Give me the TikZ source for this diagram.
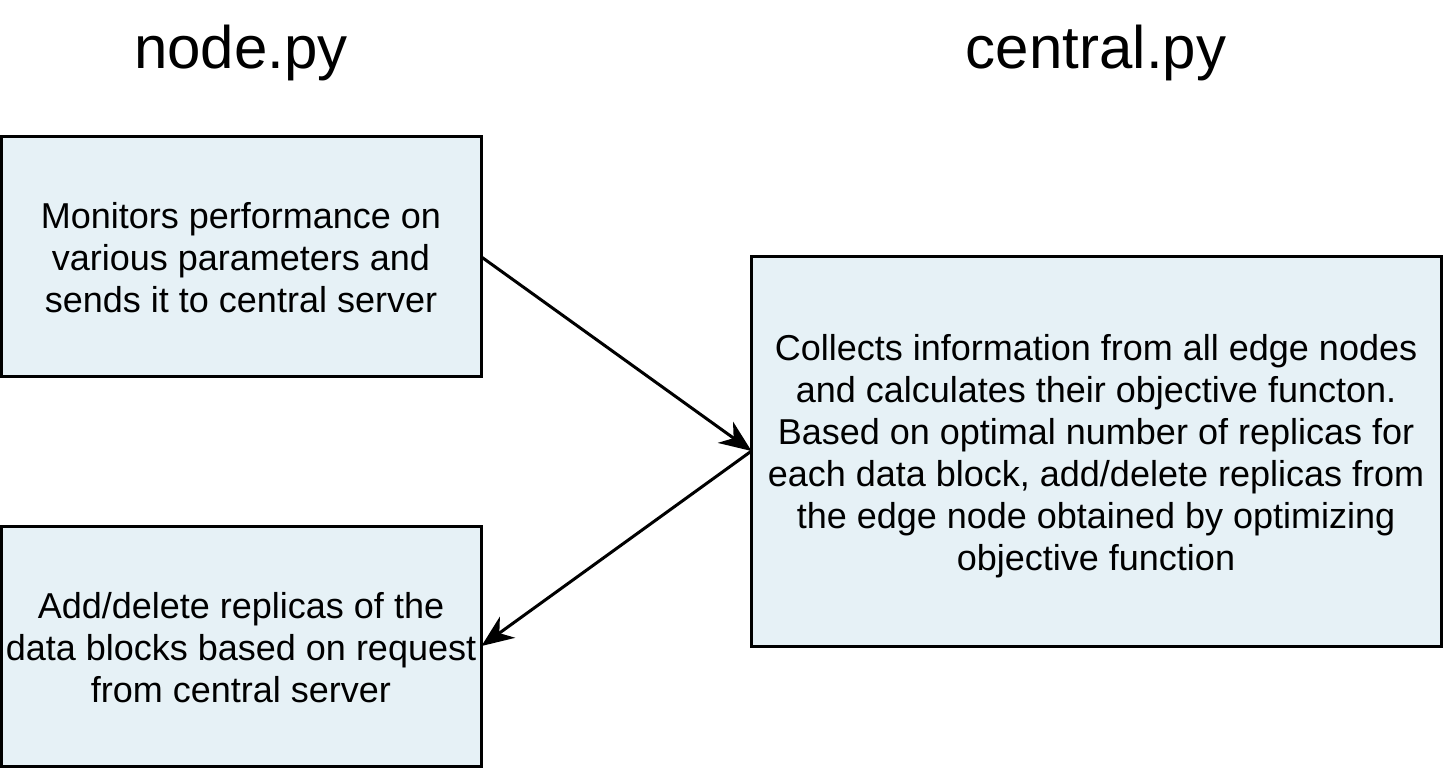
\documentclass[tikz,border=0pt]{standalone}
\usepackage{fontspec}
\setmainfont{Liberation Sans}
\usetikzlibrary{arrows.meta}
\definecolor{boxfill}{HTML}{E6F1F6}
\begin{document}
\begin{tikzpicture}[x=1pt,y=-1pt,
  box/.style={draw=black,line width=3pt,fill=boxfill},
  boxtext/.style={align=center,font=\fontsize{36}{42}\selectfont,inner sep=0pt},
  title/.style={font=\fontsize{60}{70}\selectfont,inner sep=0pt},
  conn/.style={line width=3pt,-{Stealth[length=32pt,width=26pt,inset=10pt]}}]
\useasboundingbox (0,0) rectangle (1443,768);
\node[title] (t1) at (241,53) {node.py};
\node[title] (t2) at (1096,53) {central.py};
\draw[box] (1.5,136.5) rectangle (481.5,376.5);
\draw[box] (1.5,526.5) rectangle (481.5,766.5);
\draw[box] (751.5,256.5) rectangle (1441.5,646.5);
\node[boxtext] (n1) at (241,258) {Monitors performance on\\various parameters and\\sends it to central server};
\node[boxtext] (n2) at (241,648) {Add/delete replicas of the\\data blocks based on request\\from central server};
\node[boxtext] (n3) at (1096,456) {Collects information from all edge nodes\\and calculates their objective functon.\\Based on optimal number of replicas for\\each data block, add/delete replicas from\\the edge node obtained by optimizing\\objective function};
\coordinate (p1) at (481.5,257);
\coordinate (p3) at (751.5,451);
\coordinate (p2) at (481.5,646);
\draw[conn] (p1) -- (p3);
\draw[conn] (p3) -- (p2);
\end{tikzpicture}
\end{document}
